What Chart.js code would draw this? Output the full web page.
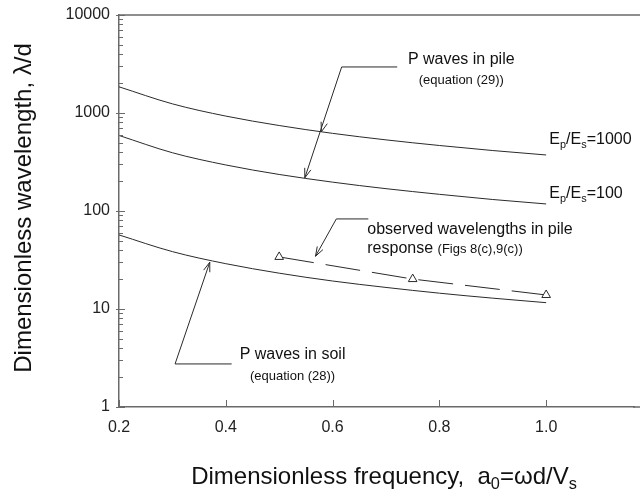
<!DOCTYPE html>
<html>
<head>
<meta charset="utf-8">
<script src="https://cdn.jsdelivr.net/npm/chart.js@4.4.1/dist/chart.umd.min.js"></script>
<style>
  html, body { margin: 0; padding: 0; background: #fff; }
  canvas { display: block; }
</style>
</head>
<body>
<canvas id="waveChart" width="640" height="496"></canvas>
<script>
// values
const a0 = [0.2, 0.3, 0.4, 0.5, 0.6, 0.7, 0.8, 0.9, 1.0];
const pile1000 = [1850, 1240, 930, 745, 620, 532, 466, 414, 373];
const pile100 = [590, 393, 295, 236, 197, 169, 148, 131, 118];
const soil = [57, 38.5, 29, 23.2, 19.3, 16.6, 14.5, 12.9, 11.6];
const obsA0 = [0.5, 0.75, 1.0];
const obsLambda = [34, 20.2, 13.9];
const xTicks = [0.2, 0.4, 0.6, 0.8, 1.0];
const yTicks = [1, 10, 100, 1000, 10000];

const FONT = "'Liberation Sans', Arial, sans-serif";
const INK = '#2a2a2a';
const AXIS = '#6a6a6a';

function pts(xs, ys) {
    return xs.map((x, i) => ({ x: x, y: ys[i] }));
}

function curve(data) {
    return {
        data: data,
        showLine: true,
        borderColor: INK,
        borderWidth: 1,
        pointRadius: 0,
        cubicInterpolationMode: 'monotone',
        fill: false
    };
}

// draws a string with subscript pieces: parts = [[text, isSub], ...]
function richText(ctx, parts, x, y, size, align) {
    let total = 0;
    parts.forEach(p => {
        ctx.font = (p[1] ? size * 0.68 : size) + 'px ' + FONT;
        total += ctx.measureText(p[0]).width;
    });
    let cx = align === 'center' ? x - total / 2 : x;
    ctx.textAlign = 'left';
    ctx.textBaseline = 'middle';
    parts.forEach(p => {
        ctx.font = (p[1] ? size * 0.68 : size) + 'px ' + FONT;
        ctx.fillText(p[0], cx, p[1] ? y + size * 0.32 : y);
        cx += ctx.measureText(p[0]).width;
    });
}

function arrowHead(ctx, fx, fy, tx, ty) {
    const ang = Math.atan2(ty - fy, tx - fx);
    const len = 10, spread = 0.33;
    ctx.beginPath();
    ctx.moveTo(tx - len * Math.cos(ang - spread), ty - len * Math.sin(ang - spread));
    ctx.lineTo(tx, ty);
    ctx.lineTo(tx - len * Math.cos(ang + spread), ty - len * Math.sin(ang + spread));
    ctx.stroke();
}

const decorations = {
    id: 'decorations',
    afterDraw(chart) {
        const ctx = chart.ctx;
        const xs = chart.scales.x, ys = chart.scales.y;
        const area = chart.chartArea;
        const X = v => xs.getPixelForValue(v);
        const Y = v => ys.getPixelForValue(v);
        ctx.save();

        // frame top (runs off the right edge like the original) + axis continuation
        ctx.strokeStyle = AXIS;
        ctx.lineWidth = 1.5;
        ctx.beginPath();
        ctx.moveTo(area.left, area.top);
        ctx.lineTo(chart.width, area.top);
        ctx.moveTo(area.right - 1, area.bottom);
        ctx.lineTo(chart.width, area.bottom);
        ctx.stroke();

        // tick marks, pointing inward
        ctx.lineWidth = 1;
        for (let dec = 1; dec <= 10000; dec *= 10) {
            for (let m = 1; m <= 9; m++) {
                const v = dec * m;
                if (v > 10000) break;
                const py = Math.round(Y(v)) + 0.5;
                ctx.beginPath();
                ctx.moveTo(area.left - (m === 1 ? 3 : 0), py);
                ctx.lineTo(area.left + (m === 1 ? 6 : 4), py);
                ctx.stroke();
            }
        }
        xTicks.forEach(v => {
            const px = Math.round(X(v)) + 0.5;
            ctx.beginPath();
            ctx.moveTo(px, area.bottom);
            ctx.lineTo(px, area.bottom - 7);
            ctx.stroke();
        });

        // axis titles
        ctx.fillStyle = '#111';
        ctx.save();
        ctx.translate(24, (area.top + area.bottom) / 2 - 3);
        ctx.rotate(-Math.PI / 2);
        richText(ctx, [['Dimensionless wavelength, \u03bb/d', false]], 0, 0, 24, 'center');
        ctx.restore();
        richText(ctx, [['Dimensionless frequency,  a', false], ['0', true], ['=\u03c9d/V', false], ['s', true]],
            384, 477, 24, 'center');

        // leaders and arrows
        ctx.strokeStyle = INK;
        ctx.lineWidth = 1;
        const line = (p) => {
            ctx.beginPath();
            ctx.moveTo(X(p[0][0]), Y(p[0][1]));
            for (let i = 1; i < p.length; i++) ctx.lineTo(X(p[i][0]), Y(p[i][1]));
            ctx.stroke();
        };
        // P waves in pile
        line([[0.721, 2950], [0.617, 2950], [0.548, 218]]);
        arrowHead(ctx, X(0.617), Y(2950), X(0.579), Y(644));
        arrowHead(ctx, X(0.617), Y(2950), X(0.548), Y(218));
        // observed wavelengths
        line([[0.667, 83], [0.607, 83], [0.568, 34.5]]);
        arrowHead(ctx, X(0.607), Y(83), X(0.568), Y(34.5));
        // P waves in soil
        line([[0.411, 2.75], [0.305, 2.75], [0.370, 30]]);
        arrowHead(ctx, X(0.305), Y(2.75), X(0.370), Y(30));

        // labels
        ctx.fillStyle = '#111';
        richText(ctx, [['P waves in pile', false]], X(0.841), Y(3475), 16, 'center');
        richText(ctx, [['(equation (29))', false]], X(0.841), Y(2173), 13, 'center');
        richText(ctx, [['E', false], ['p', true], ['/E', false], ['s', true], ['=1000', false]], X(1.006), Y(530), 16, 'left');
        richText(ctx, [['E', false], ['p', true], ['/E', false], ['s', true], ['=100', false]], X(1.006), Y(149), 16, 'left');
        richText(ctx, [['observed wavelengths in pile', false]], X(0.665), Y(64), 16, 'left');
        ctx.font = '16px ' + FONT;
        const rw = ctx.measureText('response ').width;
        richText(ctx, [['response', false]], X(0.665), Y(41), 16, 'left');
        richText(ctx, [['(Figs 8(c),9(c))', false]], X(0.665) + rw, Y(41), 13, 'left');
        richText(ctx, [['P waves in soil', false]], X(0.525), Y(3.4), 16, 'center');
        richText(ctx, [['(equation (28))', false]], X(0.525), Y(2.07), 13, 'center');

        ctx.restore();
    }
};

new Chart(document.getElementById('waveChart').getContext('2d'), {
    type: 'scatter',
    data: {
        datasets: [
            curve(pts(a0, pile1000)),
            curve(pts(a0, pile100)),
            curve(pts(a0, soil)),
            {
                data: pts(obsA0, obsLambda),
                showLine: true,
                borderColor: INK,
                borderWidth: 1,
                borderDash: [35, 12],
                pointStyle: 'triangle',
                pointRadius: 5,
                pointBorderWidth: 1,
                pointBackgroundColor: '#fff',
                pointBorderColor: INK,
                fill: false
            }
        ]
    },
    options: {
        responsive: false,
        animation: false,
        devicePixelRatio: 1,
        layout: { padding: { top: 15, right: 0, left: 0, bottom: 0 } },
        plugins: { legend: { display: false }, tooltip: { enabled: false } },
        scales: {
            x: {
                type: 'linear',
                min: 0.2,
                max: 1.1645,
                afterBuildTicks: s => { s.ticks = xTicks.map(v => ({ value: v })); },
                afterFit: s => { s.height = 89; s.paddingLeft = 0; s.paddingRight = 0; },
                grid: { display: false, drawTicks: false },
                border: { display: true, color: AXIS, width: 1.5 },
                ticks: {
                    padding: 11,
                    color: '#222',
                    font: { family: FONT, size: 16 },
                    maxRotation: 0,
                    callback: v => Number(v).toFixed(1)
                }
            },
            y: {
                type: 'logarithmic',
                min: 1,
                max: 10000,
                afterBuildTicks: s => { s.ticks = yTicks.map(v => ({ value: v })); },
                afterFit: s => { s.width = 119; s.paddingTop = 0; s.paddingBottom = 0; },
                grid: { display: false, drawTicks: false },
                border: { display: true, color: AXIS, width: 1.5 },
                ticks: {
                    padding: 9,
                    color: '#222',
                    font: { family: FONT, size: 16 },
                    callback: v => String(v)
                }
            }
        }
    },
    plugins: [decorations]
});
</script>
</body>
</html>
